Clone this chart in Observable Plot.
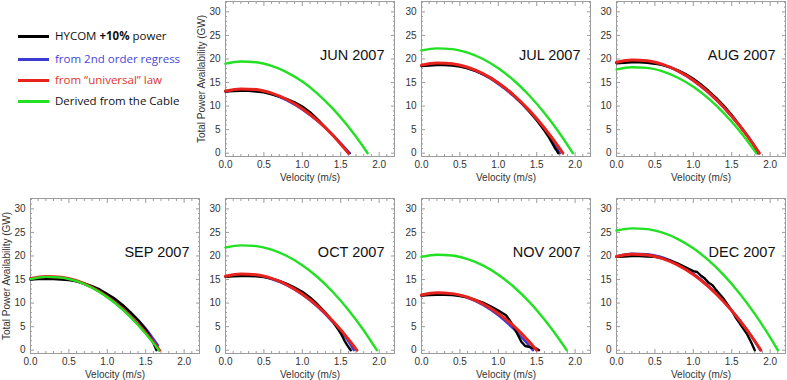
<!DOCTYPE html>
<html><head><meta charset="utf-8">
<script src="https://cdn.jsdelivr.net/npm/d3@7"></script>
<script src="https://cdn.jsdelivr.net/npm/@observablehq/plot@0.6"></script>
<style>
body{margin:0;background:#fff;}
#root{position:relative;width:787px;height:380px;overflow:hidden;background:#fff;}
#root svg{position:absolute;}
.leg{position:absolute;left:0;font-family:"Open Sans",sans-serif;font-size:11.5px;line-height:14px;white-space:nowrap;}
.leg .sw{position:absolute;left:18px;top:6px;width:31px;height:2.5px;}
.leg .tx{position:absolute;left:55px;top:0;}
</style></head><body><div id="root"></div>
<script>
const months = ["JUN 2007","JUL 2007","AUG 2007","SEP 2007","OCT 2007","NOV 2007","DEC 2007"];
const seriesNames = ["HYCOM +10% power","from 2nd order regress","from \u201cuniversal\u201d law","Derived from the Cable"];
const xTicks = [0, 0.5, 1.0, 1.5, 2.0];
const yTicks = [0, 5, 10, 15, 20, 25, 30];
const xTitle = "Velocity (m/s)";
const yTitle = "Total Power Availability (GW)";

// HYCOM +10% power (black)
const hycom = [
  [[0,13.1],[0.1,13.2],[0.2,13.25],[0.3,13.25],[0.4,13.1],[0.5,12.9],[0.6,12.5],[0.7,12.0],[0.8,11.5],[0.9,10.8],[1.0,9.9],[1.1,8.7],[1.2,7.2],[1.3,5.5],[1.4,3.8],[1.5,1.9],[1.6,0.1],[1.61,0]],
  [[0,18.5],[0.1,18.6],[0.2,18.7],[0.3,18.7],[0.4,18.6],[0.5,18.4],[0.6,18.0],[0.7,17.5],[0.8,16.8],[0.9,16.0],[1.0,14.9],[1.1,13.7],[1.2,12.3],[1.3,10.7],[1.4,8.9],[1.5,7.0],[1.6,4.8],[1.65,3.6],[1.7,2.2],[1.74,1.0],[1.76,0.6],[1.78,0]],
  [[0,19.1],[0.1,19.2],[0.2,19.3],[0.3,19.3],[0.4,19.2],[0.5,19.0],[0.6,18.7],[0.7,18.2],[0.8,17.6],[0.9,16.8],[1.0,15.8],[1.1,14.6],[1.2,13.2],[1.3,11.7],[1.4,10.0],[1.5,8.1],[1.6,6.0],[1.7,3.8],[1.8,1.4],[1.84,0]],
  [[0,15.0],[0.1,15.1],[0.2,15.1],[0.3,15.1],[0.4,15.0],[0.5,14.9],[0.6,14.6],[0.7,14.2],[0.8,13.6],[0.9,12.9],[1.0,11.9],[1.1,10.9],[1.2,9.6],[1.3,8.1],[1.4,6.4],[1.5,4.4],[1.56,2.8],[1.6,1.5],[1.64,0]],
  [[0,15.6],[0.1,15.7],[0.2,15.75],[0.3,15.75],[0.4,15.7],[0.5,15.5],[0.6,15.2],[0.7,14.7],[0.8,14.1],[0.9,13.3],[1.0,12.4],[1.1,11.2],[1.2,9.7],[1.3,8.0],[1.4,6.0],[1.45,4.8],[1.5,3.6],[1.55,2.0],[1.58,1.2],[1.6,0.7],[1.63,0]],
  [[0,11.6],[0.1,11.7],[0.2,11.75],[0.3,11.75],[0.4,11.7],[0.5,11.5],[0.6,11.2],[0.7,10.7],[0.8,10.1],[0.9,9.3],[1.0,8.4],[1.1,7.4],[1.15,6.3],[1.2,5.0],[1.25,3.4],[1.3,1.8],[1.35,0.9],[1.4,0.7],[1.45,0.5],[1.5,0.3],[1.53,0]],
  [[0,19.8],[0.1,19.9],[0.2,20.0],[0.3,20.0],[0.4,19.9],[0.5,19.8],[0.6,19.5],[0.7,19.0],[0.8,18.4],[0.9,17.6],[1.0,16.8],[1.05,16.6],[1.1,15.8],[1.15,15.2],[1.2,14.3],[1.25,13.8],[1.3,12.7],[1.4,10.8],[1.5,8.4],[1.55,7.0],[1.6,5.8],[1.65,4.6],[1.7,3.4],[1.75,1.8],[1.8,0]]
];
// from 2nd order regress (blue)
const regress = [
  [[0,13.1],[0.2,13.5],[0.4,13.4],[0.6,12.6],[0.8,11.2],[1.0,9.3],[1.2,6.8],[1.4,3.8],[1.5,2.1],[1.62,0]],
  [[0,18.5],[0.2,18.95],[0.4,18.8],[0.6,18.05],[0.8,16.7],[1.0,14.7],[1.2,12.1],[1.4,8.9],[1.6,5.0],[1.7,2.8],[1.8,0]],
  [[0,19.2],[0.2,19.6],[0.4,19.5],[0.6,18.8],[0.8,17.4],[1.0,15.4],[1.2,12.8],[1.4,9.6],[1.6,5.8],[1.8,1.4],[1.85,0]],
  [[0,15.0],[0.2,15.4],[0.4,15.3],[0.6,14.6],[0.8,13.4],[1.0,11.6],[1.2,9.2],[1.4,6.4],[1.5,4.6],[1.6,2.4],[1.66,1.0]],
  [[0,15.6],[0.2,16.0],[0.4,15.9],[0.6,15.1],[0.8,13.8],[1.0,11.8],[1.2,9.2],[1.4,5.9],[1.5,4.0],[1.6,1.9],[1.67,0]],
  [[0,11.6],[0.2,12.1],[0.4,11.9],[0.6,11.1],[0.8,9.6],[1.0,7.4],[1.2,4.5],[1.3,2.8],[1.4,1.0],[1.45,0]],
  [[0,19.9],[0.2,20.5],[0.4,20.4],[0.6,19.7],[0.8,18.3],[1.0,16.3],[1.2,13.6],[1.4,10.3],[1.6,6.4],[1.8,1.9],[1.87,0]]
];
// from "universal" law (red)
const universal = [
  [[0,13.2],[0.2,13.65],[0.4,13.5],[0.6,12.75],[0.8,11.4],[1.0,9.45],[1.2,6.9],[1.4,3.75],[1.5,1.95],[1.6,0]],
  [[0,18.7],[0.2,19.16],[0.4,19.0],[0.6,18.25],[0.8,16.88],[1.0,14.91],[1.2,12.33],[1.4,9.14],[1.6,5.35],[1.8,0.95],[1.84,0]],
  [[0,19.3],[0.2,19.76],[0.4,19.61],[0.6,18.84],[0.8,17.47],[1.0,15.49],[1.2,12.89],[1.4,9.69],[1.6,5.87],[1.8,1.45],[1.86,0]],
  [[0,15.2],[0.2,15.66],[0.4,15.51],[0.6,14.74],[0.8,13.36],[1.0,11.37],[1.2,8.76],[1.4,5.54],[1.6,1.71],[1.68,0]],
  [[0,15.7],[0.2,16.16],[0.4,16.0],[0.6,15.24],[0.8,13.88],[1.0,11.91],[1.2,9.33],[1.4,6.14],[1.6,2.34],[1.71,0]],
  [[0,11.7],[0.2,12.17],[0.4,12.01],[0.6,11.23],[0.8,9.83],[1.0,7.8],[1.2,5.15],[1.4,1.87],[1.5,0]],
  [[0,19.9],[0.2,20.36],[0.4,20.21],[0.6,19.44],[0.8,18.06],[1.0,16.07],[1.2,13.46],[1.4,10.24],[1.6,6.4],[1.8,1.95],[1.88,0]]
];
// Derived from the Cable (green)
const cable = [
  [[0,19.0],[0.2,19.46],[0.4,19.3],[0.6,18.54],[0.8,17.17],[1.0,15.2],[1.2,12.61],[1.4,9.41],[1.6,5.61],[1.8,1.2],[1.85,0]],
  [[0,21.8],[0.2,22.25],[0.4,22.1],[0.6,21.35],[0.8,19.99],[1.0,18.04],[1.2,15.48],[1.4,12.31],[1.6,8.55],[1.8,4.19],[1.97,0]],
  [[0,17.8],[0.2,18.24],[0.4,18.1],[0.6,17.36],[0.8,16.02],[1.0,14.1],[1.2,11.58],[1.4,8.46],[1.6,4.76],[1.8,0.46],[1.82,0]],
  [[0,15.1],[0.2,15.56],[0.4,15.41],[0.6,14.64],[0.8,13.25],[1.0,11.24],[1.2,8.61],[1.4,5.36],[1.6,1.5],[1.67,0]],
  [[0,21.8],[0.2,22.25],[0.4,22.1],[0.6,21.35],[0.8,19.99],[1.0,18.04],[1.2,15.48],[1.4,12.31],[1.6,8.55],[1.8,4.19],[1.97,0]],
  [[0,19.8],[0.2,20.25],[0.4,20.1],[0.6,19.35],[0.8,18.0],[1.0,16.03],[1.2,13.47],[1.4,10.3],[1.6,6.53],[1.8,2.16],[1.89,0]],
  [[0,25.4],[0.2,25.85],[0.4,25.7],[0.6,24.95],[0.8,23.59],[1.0,21.62],[1.2,19.05],[1.4,15.87],[1.6,12.09],[1.8,7.71],[2.0,2.72],[2.1,0]]
];

const colors = ["#000000", "#3b3bd2", "#e8221c", "#22e022"];
const widths = [2.4, 2.4, 3, 2.4];
const curves = ["linear", "monotone-x", "monotone-x", "monotone-x"];
const allSeries = [hycom, regress, universal, cable];
const drawOrder = [1, 0, 2, 3];

const frameColor = "#9c9c9c";
const colLeft = [30, 225, 421, 616];
const rowTop = [0.5, 197.5];
const FW = 169, FH = 155;
const ML = 30, MR = 6, MT = 1, MB = 27;
const xMinor = d3.range(0, 2.21, 0.1).map(d => +d.toFixed(1)).filter(d => Math.abs(d*2 - Math.round(d*2)) > 1e-6);
const yMinor = d3.range(0, 33, 1).filter(d => d % 5 !== 0);

const root = document.getElementById("root");

// legend
const legTops = [29, 52, 73, 94];
const legTextColors = ["#111", "#4646d4", "#e0342c", "#111"];
seriesNames.forEach((name, k) => {
  const div = document.createElement("div");
  div.className = "leg";
  div.style.top = legTops[k] + "px";
  const sw = document.createElement("span");
  sw.className = "sw";
  sw.style.background = colors[k];
  const tx = document.createElement("span");
  tx.className = "tx";
  tx.style.color = legTextColors[k];
  if (k === 0) {
    tx.innerHTML = 'HYCOM <b>+10%</b> power';
  } else {
    tx.textContent = name;
  }
  div.append(sw, tx);
  root.append(div);
});

months.forEach((m, i) => {
  const slot = i + 1, col = slot % 4, row = Math.floor(slot / 4);
  const firstInRow = (i === 0 || col === 0);
  const lineMarks = drawOrder.map(s => Plot.line(allSeries[s][i], {
    x: d => d[0], y: d => d[1], stroke: colors[s], strokeWidth: widths[s], curve: curves[s]
  }));
  const chart = Plot.plot({
    width: ML + FW + MR, height: MT + FH + MB,
    marginLeft: ML, marginRight: MR, marginTop: MT, marginBottom: MB,
    x: {domain: [0, 2.2], label: null},
    y: {domain: [-0.7, 32.2], label: null},
    style: {fontFamily: "'Liberation Sans', Arial, sans-serif", fontSize: "10px", color: "#333", background: "transparent", overflow: "visible"},
    marks: [
      Plot.frame({stroke: frameColor}),
      Plot.axisX(xTicks, {anchor: "bottom", tickSize: 0, tickPadding: 4, tickFormat: d => d.toFixed(1), label: xTitle, labelAnchor: "center", labelOffset: 24, labelArrow: "none"}),
      Plot.axisX(xTicks, {anchor: "bottom", tickSize: -4, fill: "none", stroke: frameColor}),
      Plot.axisX(xTicks, {anchor: "top", tickSize: -4, fill: "none", stroke: frameColor}),
      Plot.axisX(xMinor, {anchor: "bottom", tickSize: -2, fill: "none", stroke: frameColor}),
      Plot.axisX(xMinor, {anchor: "top", tickSize: -2, fill: "none", stroke: frameColor}),
      Plot.axisY(yTicks, {anchor: "left", tickSize: 0, tickPadding: 5, label: firstInRow ? yTitle : null, labelAnchor: "center", labelOffset: 28, labelArrow: "none"}),
      Plot.axisY(yTicks, {anchor: "left", tickSize: -4, fill: "none", stroke: frameColor}),
      Plot.axisY(yTicks, {anchor: "right", tickSize: -4, fill: "none", stroke: frameColor}),
      Plot.axisY(yMinor, {anchor: "left", tickSize: -2, fill: "none", stroke: frameColor}),
      Plot.axisY(yMinor, {anchor: "right", tickSize: -2, fill: "none", stroke: frameColor}),
      ...lineMarks,
      Plot.text([m], {text: d => d, frameAnchor: "top-right", dx: -10, dy: 54, textAnchor: "end", lineAnchor: "middle", fontSize: 14.5, fontWeight: 400, fill: "#111"})
    ]
  });
  chart.style.left = (colLeft[col] - ML) + "px";
  chart.style.top = (rowTop[row] - MT) + "px";
  root.append(chart);
});
</script></body></html>
